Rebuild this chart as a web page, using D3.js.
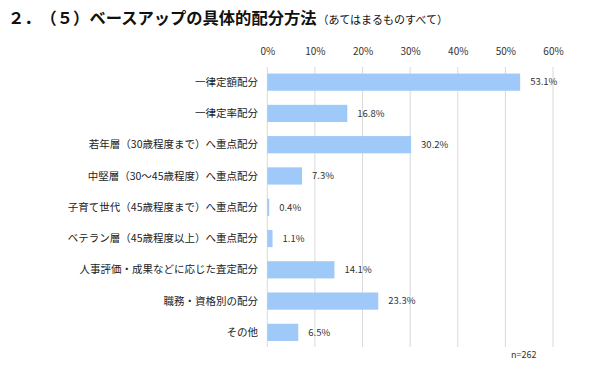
<!DOCTYPE html>
<html><head><meta charset="utf-8">
<script src="https://cdn.jsdelivr.net/npm/d3@7"></script>
<style>
body{margin:0;background:#fff;}
text{font-family:"Noto Sans CJK JP","Noto Sans",sans-serif;}
</style></head>
<body><svg id="c" width="590" height="368"></svg>
<script>
const categories = ["一律定額配分","一律定率配分","若年層（30歳程度まで）へ重点配分","中堅層（30～45歳程度）へ重点配分","子育て世代（45歳程度まで）へ重点配分","ベテラン層（45歳程度以上）へ重点配分","人事評価・成果などに応じた査定配分","職務・資格別の配分","その他"];
const values = [53.1,16.8,30.2,7.3,0.4,1.1,14.1,23.3,6.5];
const tickValues = [0,10,20,30,40,50,60];
const titleMain = "２．　（５）ベースアップの具体的配分方法";
const titleSub = "（あてはまるものすべて）";
const note = "n=262";

const svg = d3.select("#c");
const x = d3.scaleLinear().domain([0,60]).range([267.3,553]);
const y = d3.scaleBand().domain(categories).range([66.5,348]).paddingInner(0.45).paddingOuter(0.225);

// title
const t = svg.append("text").attr("x",8).attr("y",24).attr("fill","#111");
t.append("tspan").attr("font-size",16.3).attr("font-weight","bold").text(titleMain);
t.append("tspan").attr("font-size",11).attr("dx",1).text(titleSub);

// gridlines
svg.append("g").selectAll("line").data(tickValues).join("line")
  .attr("x1",d=>x(d)).attr("x2",d=>x(d)).attr("y1",67).attr("y2",347)
  .attr("stroke","#d9d9d9").attr("stroke-width",1);

// top axis labels
const ax = svg.append("g").attr("transform","translate(0,55)")
  .call(d3.axisTop(x).tickValues(tickValues).tickFormat(d=>d+"%").tickSize(0).tickPadding(0));
ax.select(".domain").remove();
ax.selectAll("text").attr("font-size",10).attr("fill","#333").attr("font-family","'Noto Sans CJK JP',sans-serif");

// bars
svg.append("g").selectAll("rect").data(values).join("rect")
  .attr("x",x(0)).attr("y",(d,i)=>y(categories[i]))
  .attr("width",d=>x(d)-x(0)).attr("height",y.bandwidth())
  .attr("fill","#9ec9f8");

// value labels
svg.append("g").selectAll("text").data(values).join("text")
  .attr("x",d=>x(d)+10).attr("y",(d,i)=>y(categories[i])+y.bandwidth()/2)
  .attr("dy","0.35em").attr("font-size",9.5).attr("fill","#333")
  .text(d=>d.toFixed(1)+"%");

// category labels
svg.append("g").selectAll("text").data(categories).join("text")
  .attr("x",258).attr("y",d=>y(d)+y.bandwidth()/2).attr("dy","0.35em")
  .attr("text-anchor","end").attr("font-size",10.5).attr("fill","#222")
  .text(d=>d);

svg.append("text").attr("x",511).attr("y",358).attr("font-size",9).attr("fill","#333").text(note);
</script></body></html>
